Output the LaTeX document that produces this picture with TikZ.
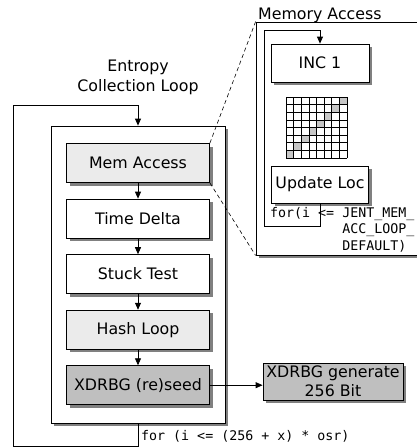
\documentclass[tikz,border=0pt]{standalone}
\usepackage{fontspec}
\setmainfont{DejaVu Sans}
\setmonofont{DejaVu Sans Mono}
\usetikzlibrary{positioning,shadows,arrows.meta}

\tikzset{
  shade3/.style={drop shadow={shadow xshift=3pt,shadow yshift=-3pt,fill=black!50,opacity=1}},
  stepbox/.style={draw,line width=0.8pt,fill=white,inner sep=0pt,minimum width=143pt,minimum height=39pt,
    shade3,font=\fontsize{15.8}{19}\selectfont},
  lightbox/.style={stepbox,fill=black!8},
  darkbox/.style={stepbox,fill=black!25},
  frame/.style={draw,line width=0.8pt,fill=white,inner sep=0pt,shade3},
  arr/.style={line width=0.8pt,-{Triangle[length=7pt,width=6pt]}},
  title/.style={inner sep=0pt,font=\fontsize{15.8}{20}\selectfont},
  codetxt/.style={inner sep=0pt,font=\ttfamily\fontsize{13.3}{16.5}\selectfont},
}

\begin{document}
\begin{tikzpicture}[x=1pt,y=-1pt]
\useasboundingbox (0,0) rectangle (416,448);

%Frames
\node[frame,minimum width=174pt,minimum height=297pt] (loop) at (138,274.5) {};
\node[frame,minimum width=174pt,minimum height=233pt] (memframe) at (343,138.5) {};

% Text Node
\node[title,anchor=base west] (memtitle) at (258,19) {Memory Access};
% Text Node
\node[title,align=center] (looptitle) at (138,77) {Entropy\\Collection Loop};

%Steps of the loop
\node[lightbox] (memacc) at (138,163) {Mem Access};
\node[stepbox,below=15.75pt of memacc] (tdelta) {Time Delta};
\node[stepbox,below=15.75pt of tdelta] (stuck) {Stuck Test};
\node[lightbox,below=15.75pt of stuck] (hash) {Hash Loop};
\node[darkbox,below=15.75pt of hash] (reseed) {XDRBG (re)seed};
\node[darkbox,minimum width=140pt,minimum height=37pt,align=center] (gen) at (333,381.5) {XDRBG generate\\256 Bit};

\foreach \a/\b in {memacc/tdelta,tdelta/stuck,stuck/hash,hash/reseed}
  \draw[arr] (\a) -- (\b);
\draw[arr] (reseed.east) -- (reseed.east -| gen.west);

%Outer loop
\coordinate (outer) at (13,105);
\draw[arr] (loop.south) -- ++(0,23) -| (outer) -| (loop.north);
% Text Node
\node[codetxt,anchor=base west] (outerfor) at (141,440) {for (i <= (256 + x) * osr)};

%Zoom lines
\draw[dashed,dash pattern=on 4pt off 3pt,line width=0.6pt] (memacc.north east) -- (memframe.north west);
\draw[dashed,dash pattern=on 4pt off 3pt,line width=0.6pt] (memacc.south east) -- (memframe.south west);

%Memory access detail
\node[stepbox,minimum width=98pt,minimum height=38pt] (inc) at (320,63) {INC 1};
\node[stepbox,minimum width=97pt,minimum height=37pt] (updloc) at (320,184.5) {Update Loc};

%Memory grid
\foreach \i in {0,...,7}
  \fill[black!22] ({286+7.6*(7-\i)},{97+7.6*\i}) rectangle ++(7.6,7.6);
\foreach \i in {0,...,8} {
  \draw[line width=0.6pt] ({286+7.6*\i},97) -- ++(0,60.8);
  \draw[line width=0.6pt] (286,{97+7.6*\i}) -- ++(60.8,0);
}

%Inner loop
\coordinate (inner) at (264,30);
\draw[arr] (updloc.south) -- ++(0,23) -| (inner) -| (inc.north);
% Text Node
\node[codetxt,anchor=north west,align=left] (innerfor) at (270,207)
  {for(i <= JENT\_MEM\_\\\phantom{for(i <= }ACC\_LOOP\_\\\phantom{for(i <= }DEFAULT)};

\end{tikzpicture}
\end{document}
